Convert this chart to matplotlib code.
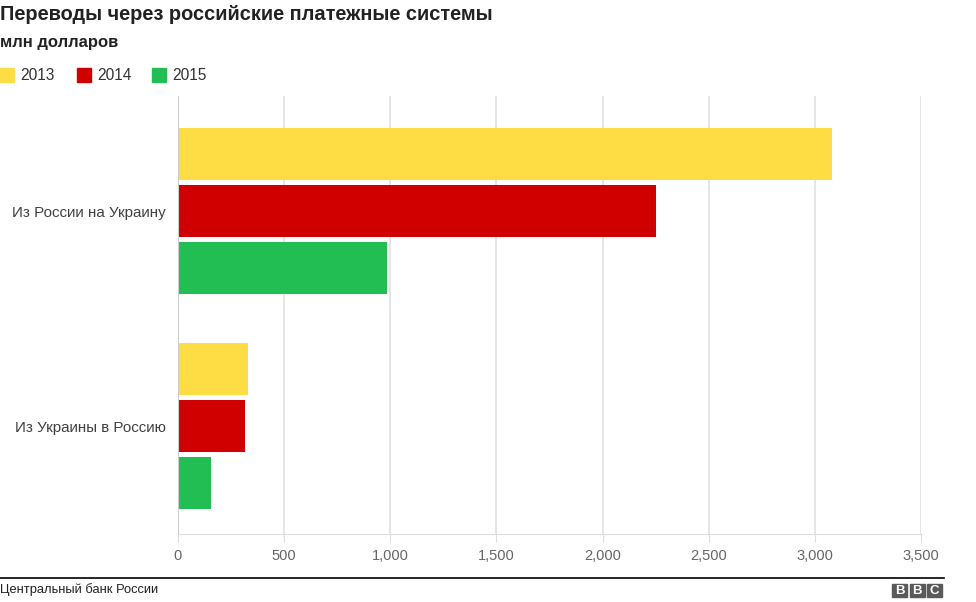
import numpy as np
import matplotlib.pyplot as plt
from matplotlib.patches import Rectangle

plt.rcParams['font.family'] = ['Liberation Sans', 'DejaVu Sans']

categories = ["Из России на Украину", "Из Украины в Россию"]
years = ["2013", "2014", "2015"]
values = {
    "2013": [3080, 330],
    "2014": [2250, 316],
    "2015": [986, 156],
}
colors = ["#FEDD44", "#D10000", "#22BE54"]
xticks = [0, 500, 1000, 1500, 2000, 2500, 3000, 3500]

W, H = 976, 602
fig = plt.figure(figsize=(W / 100, H / 100), dpi=100)

# plot area in pixels: left 178, right 921, top 96, bottom 534
ax = fig.add_axes([178 / W, 1 - 534 / H, (921 - 178) / W, (534 - 96) / H])

y = np.arange(len(categories))
step = 0.267
height = 0.242
for i, yr in enumerate(years):
    ax.barh(y + (i - 1) * step, values[yr], height=height, color=colors[i],
            zorder=3)

ax.set_xlim(0, 3500)
ax.set_ylim(1.502, -0.535)
ax.set_xticks(xticks)
ax.set_xticklabels([f"{v:,}" for v in xticks], color="#666666", fontsize=10.5)
ax.set_yticks(y)
ax.set_yticklabels(categories, color="#404040", fontsize=10.9)
ax.tick_params(axis="y", length=0, pad=9)
ax.tick_params(axis="x", length=6, color="#dddddd", pad=5)
ax.grid(axis="x", color="#e0e0e0", linewidth=1.2, zorder=0)
for s in ["top", "right", "left"]:
    ax.spines[s].set_visible(False)
ax.spines["bottom"].set_color("#dddddd")
ax.axvline(0, color="#cccccc", linewidth=1.5, zorder=4)

# title, subtitle
fig.text(0, 1 - 14 / H, "Переводы через российские платежные системы",
         fontsize=14.4, fontweight="bold", color="#222222", va="center")
fig.text(0, 1 - 43 / H, "млн долларов", fontsize=12, fontweight="bold",
         color="#222222", va="center")

# legend
lx = [0, 77, 152]
for i, yr in enumerate(years):
    fig.patches.append(Rectangle((lx[i] / W, 1 - 82 / H), 14 / W, 14 / H,
                                 transform=fig.transFigure, color=colors[i]))
    fig.text((lx[i] + 20) / W, 1 - 75 / H, yr, fontsize=11.2, color="#333333",
             va="center")

# footer
fig.add_artist(plt.Line2D([0, 944 / W], [1 - 578 / H, 1 - 578 / H],
                          color="black", linewidth=1.2,
                          transform=fig.transFigure))
fig.text(0, 1 - 590 / H, "Центральный банк России", fontsize=9.3,
         color="#222222", va="center")
for k, letter in enumerate("BBC"):
    x0 = 892 + k * 17.5
    fig.patches.append(Rectangle((x0 / W, 1 - 597 / H), 15 / W, 13 / H,
                                 transform=fig.transFigure, color="#5a5a5a"))
    fig.text((x0 + 7.5) / W, 1 - 590.5 / H, letter, fontsize=9.5,
             fontweight="bold", color="white", ha="center", va="center")

fig.savefig("out.png", dpi=100)
